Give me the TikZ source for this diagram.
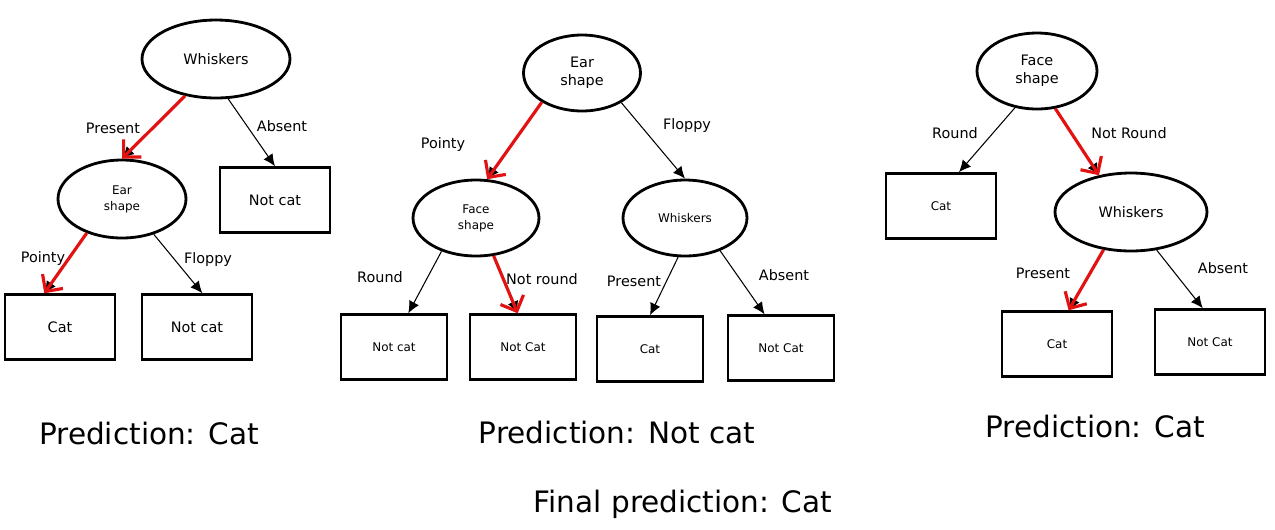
\documentclass[tikz,border=0pt]{standalone}
\usepackage{fontspec}
\setmainfont{DejaVu Sans}
\usetikzlibrary{arrows.meta,shapes.geometric}
\definecolor{pickred}{RGB}{226,18,18}
\newcommand{\bigtxt}{\fontsize{8.2}{10.2}\selectfont}
\newcommand{\smalltxt}{\fontsize{6.8}{9}\selectfont}

\begin{document}
\begin{tikzpicture}[x=0.02cm,y=-0.02cm,
  feature/.style={draw,ellipse,line width=1.6pt,inner sep=0pt,align=center},
  leaf/.style={draw,line width=1.4pt,minimum width=2.2cm,minimum height=1.3cm,inner sep=0pt},
  branch/.style={font=\bigtxt},
  verdict/.style={font=\fontsize{16.8}{20}\selectfont},
  arr/.style={-{Latex[length=2.4mm,width=2.2mm]},line width=0.6pt},
  pick/.style={-{Straight Barb[length=2.5mm,width=5mm]},pickred,line width=1.8pt}
]
\useasboundingbox (0,0) rectangle (1275,529);

\node[feature,minimum width=2.96cm,minimum height=1.56cm,font=\bigtxt] (whisk1) at (216,59) {Whiskers};
\node[feature,minimum width=2.56cm,minimum height=1.56cm,font=\smalltxt] (ear1) at (122,199) {Ear\\shape};
\node[leaf,font=\bigtxt] (nocat1) at (275,200) {Not cat};
\node[leaf,font=\bigtxt] (cat1) at (60,327) {Cat};
\node[leaf,font=\bigtxt] (nocat1b) at (197,327) {Not cat};
\node[branch] (pres1) at (113,128) {Present};
\node[branch] (abs1) at (282,126) {Absent};
\node[branch] (pointy1) at (43,259) {Pointy};
\node[branch] (floppy1) at (208,260) {Floppy};
\draw[arr] (whisk1.230) -- (ear1.north);
\draw[pick] (whisk1.230) -- (ear1.north);
\draw[arr] (whisk1.287) -- (nocat1.north);
\draw[arr] (ear1.224) -- (cat1.115);
\draw[pick] (ear1.224) -- (cat1.115);
\draw[arr] (ear1.312) -- (nocat1b.81);

\node[feature,minimum width=2.34cm,minimum height=1.52cm,font=\bigtxt] (ear2) at (582,73) {Ear\\shape};
\node[feature,minimum width=2.52cm,minimum height=1.52cm,font=\smalltxt] (face2) at (476,218) {Face\\shape};
\node[feature,minimum width=2.48cm,minimum height=1.52cm,font=\smalltxt] (whisk2) at (685,218) {Whiskers};
\node[leaf,minimum width=2.12cm,font=\smalltxt] (nocat2a) at (394,347) {Not cat};
\node[leaf,minimum width=2.12cm,font=\smalltxt] (nocat2b) at (523,347) {Not Cat};
\node[leaf,minimum width=2.12cm,font=\smalltxt] (cat2) at (650,349) {Cat};
\node[leaf,minimum width=2.12cm,font=\smalltxt] (nocat2c) at (781,348) {Not Cat};
\node[branch] (pointy2) at (443,145) {Pointy};
\node[branch] (floppy2) at (687,126) {Floppy};
\node[branch] (round2) at (380,277) {Round};
\node[branch] (notround2) at (542,279) {Not round};
\node[branch] (pres2) at (634,281) {Present};
\node[branch] (abs2) at (784,275) {Absent};
\draw[arr] (ear2.216) -- (face2.74);
\draw[pick] (ear2.216) -- (face2.74);
\draw[arr] (ear2.323) -- (whisk2.north);
\draw[arr] (face2.224) -- (nocat2a.67);
\draw[arr] (face2.295) -- (nocat2b.99);
\draw[pick] (face2.295) -- (nocat2b.99);
\draw[arr] (whisk2.260) -- (cat2.north);
\draw[arr] (whisk2.317) -- (nocat2c.116);

\node[feature,minimum width=2.4cm,minimum height=1.52cm,font=\bigtxt] (face3) at (1037,71) {Face\\shape};
\node[feature,minimum width=3.04cm,minimum height=1.56cm,font=\bigtxt] (whisk3) at (1131,212) {Whiskers};
\node[leaf,font=\smalltxt] (cat3a) at (941,206) {Cat};
\node[leaf,font=\smalltxt] (cat3b) at (1057,344) {Cat};
\node[leaf,font=\smalltxt] (nocat3) at (1210,342) {Not Cat};
\node[branch] (round3) at (955,133) {Round};
\node[branch] (notround3) at (1129,133) {Not Round};
\node[branch] (pres3) at (1043,273) {Present};
\node[branch] (abs3) at (1223,268) {Absent};
\draw[arr] (face3.239) -- (cat3a.62);
\draw[arr] (face3.296) -- (whisk3.131);
\draw[pick] (face3.296) -- (whisk3.131);
\draw[arr] (whisk3.234) -- (cat3b.71);
\draw[pick] (whisk3.234) -- (cat3b.71);
\draw[arr] (whisk3.304) -- (nocat3.102);

\node[verdict] (pred1) at (149,433) {Prediction: Cat};
\node[verdict] (pred2) at (617,432) {Prediction: Not cat};
\node[verdict] (pred3) at (1095,426) {Prediction: Cat};
\node[verdict] (final) at (683,504) {Final prediction: Cat};
\end{tikzpicture}
\end{document}
